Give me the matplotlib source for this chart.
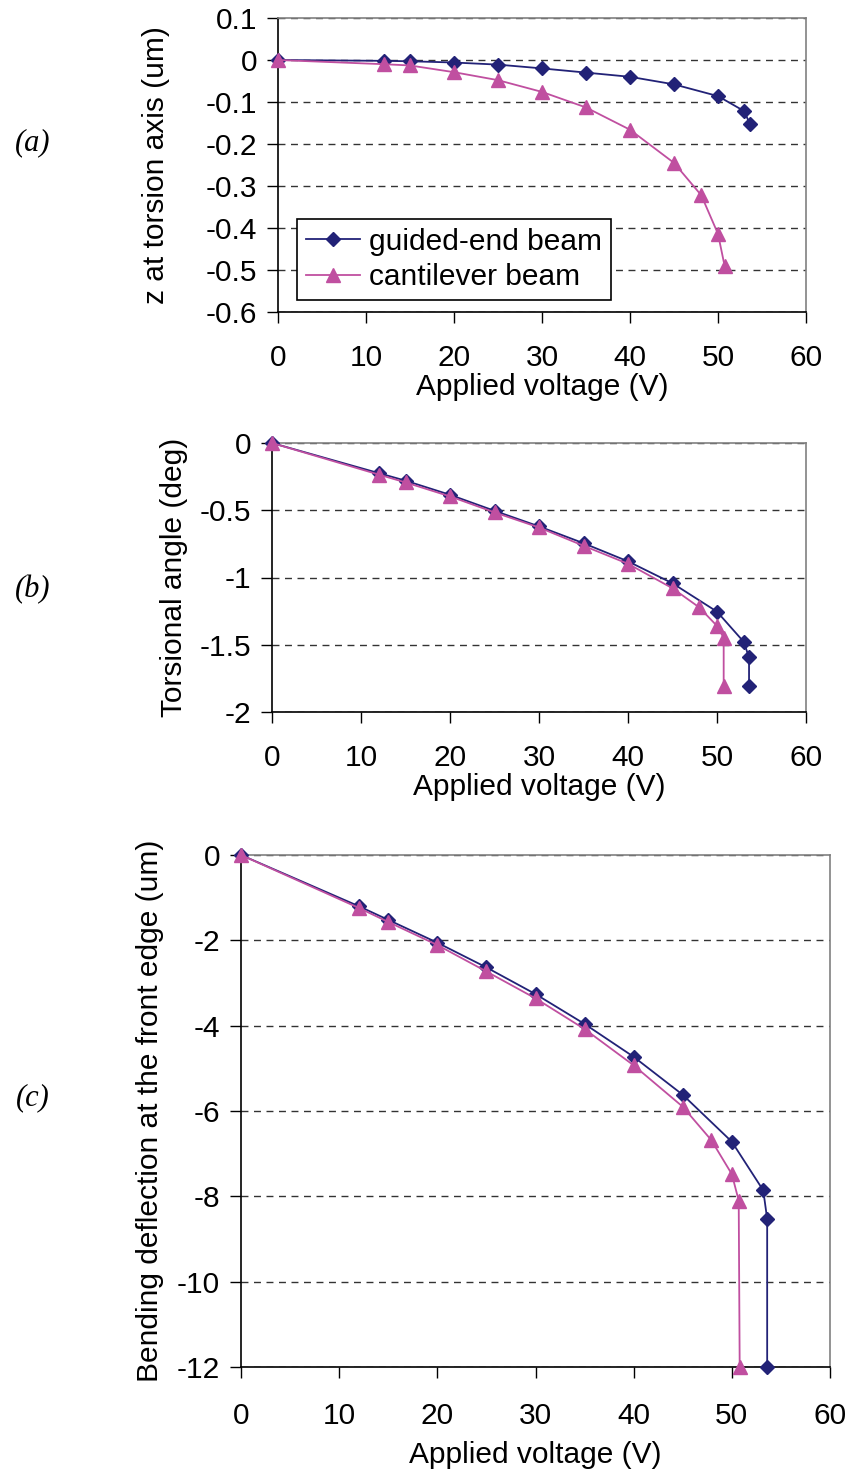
import numpy as np
import matplotlib.pyplot as plt
from matplotlib.ticker import FuncFormatter, MultipleLocator

plt.rcParams['font.family'] = ['Liberation Sans', 'DejaVu Sans']
plt.rcParams['axes.unicode_minus'] = False

GUIDED = '#222277'
CANT = '#C04FA0'

# ---------------- data ----------------
# (a) z at torsion axis (um)
va_guided = [0, 12, 15, 20, 25, 30, 35, 40, 45, 50, 53.0, 53.6]
za_guided = [0, -0.002, -0.003, -0.006, -0.011, -0.02, -0.03, -0.04, -0.058, -0.086, -0.122, -0.152]
va_cant = [0, 12, 15, 20, 25, 30, 35, 40, 45, 48.1, 50, 50.75]
za_cant = [0, -0.01, -0.013, -0.029, -0.048, -0.076, -0.113, -0.166, -0.245, -0.322, -0.414, -0.49]

# (b) torsional angle (deg)
vb_guided = [0, 12, 15, 20, 25, 30, 35, 40, 45, 50, 53.0, 53.6, 53.6]
ab_guided = [0, -0.224, -0.28, -0.385, -0.504, -0.62, -0.745, -0.88, -1.043, -1.254, -1.478, -1.594, -1.805]
vb_cant = [0, 12, 15, 20, 25, 30, 35, 40, 45, 48, 50, 50.75, 50.75]
ab_cant = [0, -0.235, -0.293, -0.397, -0.516, -0.628, -0.764, -0.898, -1.08, -1.222, -1.36, -1.448, -1.81]

# (c) bending deflection at the front edge (um)
vc_guided = [0, 12, 15, 20, 25, 30, 35, 40, 45, 50, 53.2, 53.6, 53.6]
dc_guided = [0, -1.2, -1.52, -2.055, -2.635, -3.26, -3.96, -4.73, -5.62, -6.72, -7.86, -8.53, -12]
vc_cant = [0, 12, 15, 20, 25, 30, 35, 40, 45, 47.9, 50, 50.7, 50.8]
dc_cant = [0, -1.24, -1.57, -2.11, -2.73, -3.36, -4.08, -4.93, -5.9, -6.68, -7.48, -8.1, -12]

FS = 21.5

fig = plt.figure(figsize=(8.5, 14.73), dpi=100)


def style_axes(ax, ylim, ystep, ylabel, ylabelpad):
    ax.set_xlim(0, 60)
    ax.set_ylim(*ylim)
    ax.xaxis.set_major_locator(MultipleLocator(10))
    ax.yaxis.set_major_locator(MultipleLocator(ystep))
    ax.yaxis.set_major_formatter(FuncFormatter(lambda v, p: '%g' % round(v, 6)))
    ax.tick_params(direction='out', length=8, width=1, labelsize=FS, colors='black')
    ax.tick_params(axis='x', pad=15)
    ax.tick_params(axis='y', pad=7)
    for s in ['left', 'bottom']:
        ax.spines[s].set_color('black')
        ax.spines[s].set_linewidth(1.2)
    for s in ['top', 'right']:
        ax.spines[s].set_color('#808080')
        ax.spines[s].set_linewidth(1.2)
    ax.grid(axis='y', linestyle=(0, (5, 4)), color='#333333', linewidth=1)
    ax.set_axisbelow(True)
    ax.set_xlabel('Applied voltage (V)', fontsize=FS, labelpad=1)
    ax.set_ylabel(ylabel, fontsize=FS, labelpad=ylabelpad)


def draw(ax, xg, yg, xc, yc):
    ax.plot(xg, yg, color=GUIDED, lw=1.3, marker='D', ms=7, label='guided-end beam', clip_on=False, zorder=3)
    ax.plot(xc, yc, color=CANT, lw=1.3, marker='^', ms=10, label='cantilever beam', clip_on=False, zorder=4)


# ---- (a) ----
ax1 = fig.add_axes([278 / 850, 1 - 312 / 1473, 528 / 850, 294 / 1473])
draw(ax1, va_guided, za_guided, va_cant, za_cant)
style_axes(ax1, (-0.6, 0.1), 0.1, 'z at torsion axis (um)', 26)
leg = ax1.legend(loc='lower left', bbox_to_anchor=(0.036, 0.04), fontsize=FS,
                 frameon=True, fancybox=False, edgecolor='black', framealpha=1,
                 borderpad=0.3, handlelength=1.8, handletextpad=0.3, labelspacing=0.25, borderaxespad=0)
leg.get_frame().set_linewidth(1.2)

# ---- (b) ----
ax2 = fig.add_axes([272 / 850, 1 - 712 / 1473, 534 / 850, 269 / 1473])
draw(ax2, vb_guided, ab_guided, vb_cant, ab_cant)
style_axes(ax2, (-2, 0), 0.5, 'Torsional angle (deg)', 8)

# ---- (c) ----
ax3 = fig.add_axes([241 / 850, 1 - 1367 / 1473, 589 / 850, 512 / 1473])
draw(ax3, vc_guided, dc_guided, vc_cant, dc_cant)
style_axes(ax3, (-12, 0), 2, 'Bending deflection at the front edge (um)', 9)
ax3.tick_params(axis='x', pad=17)
ax3.xaxis.labelpad = 8

# panel letters
for label, y in [('(a)', 143), ('(b)', 590), ('(c)', 1098)]:
    fig.text(33 / 850, 1 - y / 1473, label, fontsize=22, style='italic',
             family=['Liberation Serif', 'DejaVu Serif'], ha='center', va='center')

fig.savefig('out.png', dpi=100)
